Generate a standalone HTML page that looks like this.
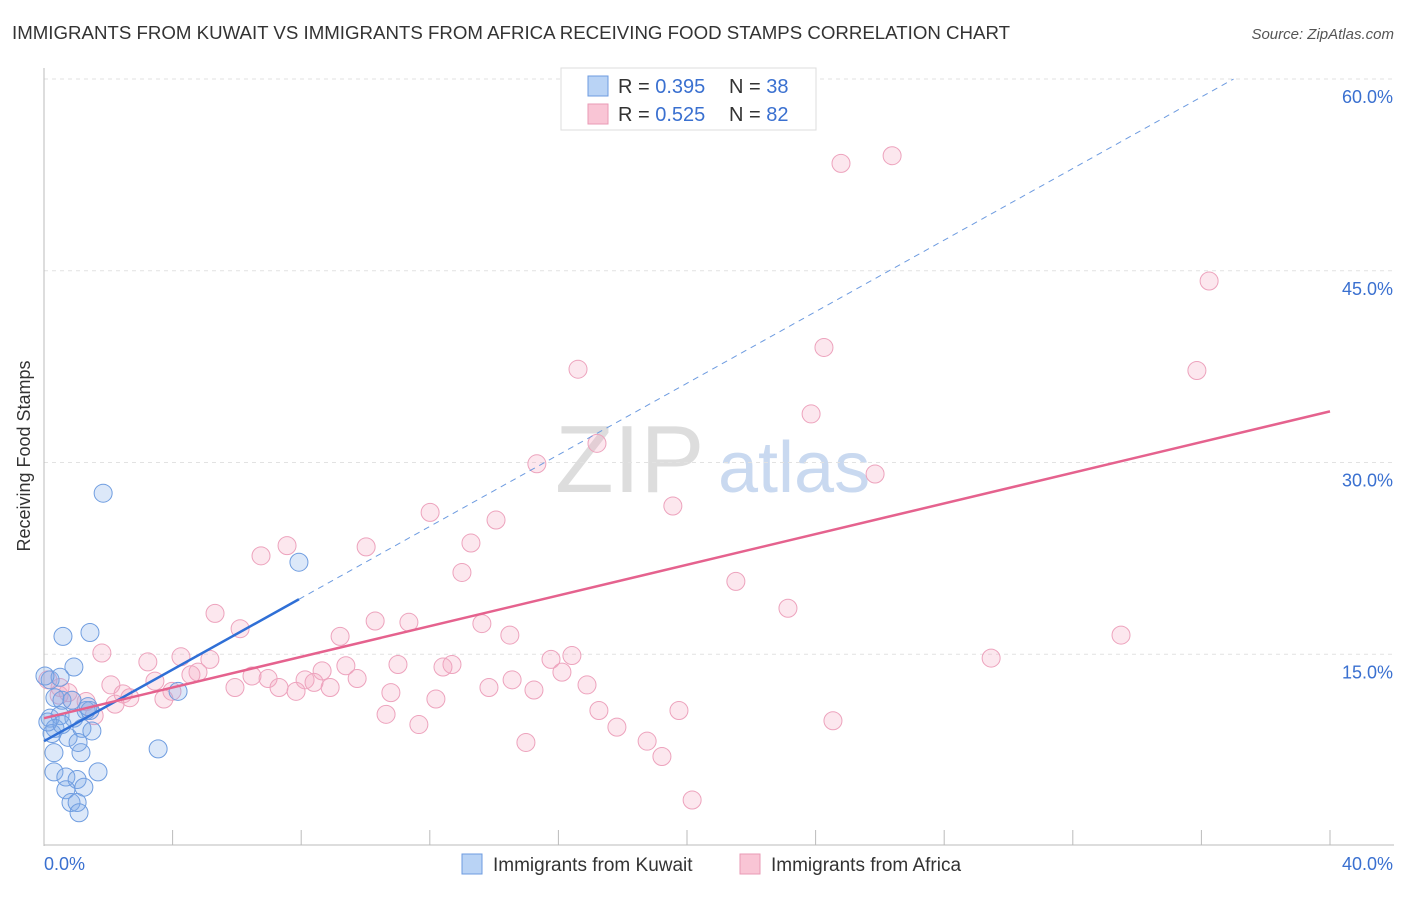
<!DOCTYPE html>
<html><head><meta charset="utf-8"><style>
body{margin:0;background:#fff;font-family:"Liberation Sans",sans-serif}
svg text{font-family:"Liberation Sans",sans-serif}
</style></head><body>
<svg id="chart" width="1406" height="892">
<text x="12" y="39" font-size="18" fill="#333" textLength="998" lengthAdjust="spacingAndGlyphs">IMMIGRANTS FROM KUWAIT VS IMMIGRANTS FROM AFRICA RECEIVING FOOD STAMPS CORRELATION CHART</text>
<text x="1394" y="39" font-size="15" fill="#555" font-style="italic" text-anchor="end">Source: ZipAtlas.com</text>
<text x="30" y="456" font-size="18" fill="#333" text-anchor="middle" transform="rotate(-90 30 456)">Receiving Food Stamps</text>
<text x="555" y="492" font-size="96" fill="#ddd" font-family="Liberation Serif">ZIP</text>
<text x="718" y="492" font-size="72" fill="#c9d9f0">atlas</text>
<g id="grid"></g><g id="marks"></g>
<g>
<rect x="561" y="68" width="255" height="62" fill="#fff" stroke="#ddd"/>
<rect x="588" y="76" width="20" height="20" fill="#b9d3f5" stroke="#6d9be0"/>
<rect x="588" y="104" width="20" height="20" fill="#f9c5d5" stroke="#e99ab5"/>
<text x="618" y="93" font-size="20" fill="#333">R = <tspan fill="#3a70d0">0.395</tspan></text>
<text x="729" y="93" font-size="20" fill="#333">N = <tspan fill="#3a70d0">38</tspan></text>
<text x="618" y="121" font-size="20" fill="#333">R = <tspan fill="#3a70d0">0.525</tspan></text>
<text x="729" y="121" font-size="20" fill="#333">N = <tspan fill="#3a70d0">82</tspan></text>
</g>
<g>
<rect x="462" y="854" width="20" height="20" fill="#b9d3f5" stroke="#6d9be0"/>
<text x="493" y="871" font-size="19" fill="#333">Immigrants from Kuwait</text>
<rect x="740" y="854" width="20" height="20" fill="#f9c5d5" stroke="#e99ab5"/>
<text x="771" y="871" font-size="19" fill="#333">Immigrants from Africa</text>
</g>
</svg>
<script>
const yTicks=[15,30,45,60];
const yTickLabels=["15.0%","30.0%","45.0%","60.0%"];
const xTicks=[0,4,8,12,16,20,24,28,32,36,40];
const kuwaitX=[1.84,7.93,1.43,0.59,0.93,4.17,3.55,0.31,1.15,1.68,0.31,0.68,1.03,1.24,0.68,0.84,1.03,1.09,0.19,0.5,0.34,0.56,0.87,1.31,0.19,0.5,0.93,1.43,0.34,0.75,1.18,1.49,0.25,1.06,0.56,0.12,0.03,1.37];
const kuwaitY=[27.6,22.2,16.7,16.4,14.0,12.1,7.6,7.3,7.3,5.8,5.8,5.4,5.2,4.6,4.4,3.4,3.4,2.6,13.0,13.2,11.6,11.4,11.4,10.6,10.0,10.2,10.0,10.6,9.2,8.5,9.2,9.0,8.8,8.1,9.5,9.7,13.3,10.9];
const africaX=[26.38,24.79,36.24,24.26,16.61,35.86,23.86,17.2,15.33,25.85,12.01,14.06,19.56,7.56,13.28,10.02,6.75,13.0,21.52,23.14,5.32,10.3,11.35,6.1,13.62,14.49,9.21,33.5,1.8,16.42,15.77,29.46,4.26,3.23,5.16,9.39,11.01,12.69,12.41,8.65,16.11,4.79,4.57,6.47,6.97,8.12,9.74,14.56,3.45,2.08,16.89,7.31,5.94,8.9,8.4,7.84,13.84,15.24,3.98,2.46,2.67,3.73,10.79,12.19,0.5,0.87,1.31,1.56,0.47,2.21,10.64,17.26,19.75,11.66,17.82,24.54,14.99,18.76,19.22,20.16,0.12,0.75];
const africaY=[54.0,53.4,44.2,39.0,37.3,37.2,33.8,31.5,29.9,29.1,26.1,25.5,26.6,23.5,23.7,23.4,22.7,21.4,20.7,18.6,18.2,17.6,17.5,17.0,17.4,16.5,16.4,16.5,15.1,14.9,14.6,14.7,14.8,14.4,14.6,14.1,14.2,14.2,14.0,13.7,13.6,13.6,13.4,13.3,13.1,13.0,13.1,13.0,12.9,12.6,12.6,12.4,12.4,12.4,12.8,12.1,12.4,12.2,12.1,11.9,11.6,11.5,12.0,11.5,12.4,11.4,11.3,10.2,11.8,11.1,10.3,10.6,10.6,9.5,9.3,9.8,8.1,8.2,7.0,3.6,13.0,12.0];
const kuwaitTrend=[8.2,1.4];
const africaTrend=[10.0,0.6];
const NS="http://www.w3.org/2000/svg";
const X=v=>44+v/40*1286, Y=v=>846-v*12.783;
function mk(tag,attrs,parent){const e=document.createElementNS(NS,tag);for(const k in attrs)e.setAttribute(k,attrs[k]);parent.appendChild(e);return e;}
const grid=document.getElementById('grid'),marks=document.getElementById('marks');
yTicks.forEach((t,i)=>{
 const l=mk('line',{x1:44,x2:1394,y1:Y(t),y2:Y(t),stroke:'#e2e2e2','stroke-dasharray':'4,4'},grid);
 
 
 const tx=mk('text',{x:1393,y:Y(t)+24,'font-size':18,fill:'#3a70d0','text-anchor':'end'},grid);
 tx.textContent=yTickLabels[i];
 
 
});
const ax=mk('line',{x1:44,x2:44,y1:68,y2:846,stroke:'#bbb'},grid);


const bx=mk('line',{x1:44,x2:1394,y1:845,y2:845,stroke:'#bbb'},grid);


xTicks.forEach(t=>{
 const l=mk('line',{x1:X(t),x2:X(t),y1:830,y2:845,stroke:'#bbb'},grid);
 
 
});
[[0,'start',44,'x-min-label','0.0%'],[40,'end',1393,'x-max-label','40.0%']].forEach(a=>{
 const t=mk('text',{x:a[2],y:870,'font-size':18,fill:'#3a70d0','text-anchor':a[1]},grid);
 t.textContent=a[4];
 
 
});
africaX.forEach((x,i)=>{
 const c=mk('circle',{cx:X(x),cy:Y(africaY[i]),r:9,fill:'rgba(244,170,195,0.28)',stroke:'#eda3bd','stroke-width':1},marks);
 
 
});
kuwaitX.forEach((x,i)=>{
 const c=mk('circle',{cx:X(x),cy:Y(kuwaitY[i]),r:9,fill:'rgba(130,172,235,0.28)',stroke:'#6f9de0','stroke-width':1},marks);
 
 
});
const kxEnd=Math.max(...kuwaitX), kxDash=(60-kuwaitTrend[0])/kuwaitTrend[1];
const kd=mk('line',{x1:X(kxEnd),y1:Y(kuwaitTrend[0]+kuwaitTrend[1]*kxEnd),x2:X(kxDash),y2:Y(60),stroke:'#6d9be0','stroke-width':1,'stroke-dasharray':'6,5'},marks);


const kl=mk('line',{x1:X(0),y1:Y(kuwaitTrend[0]),x2:X(kxEnd),y2:Y(kuwaitTrend[0]+kuwaitTrend[1]*kxEnd),stroke:'#2f6fd6','stroke-width':2.5},marks);


const al=mk('line',{x1:X(0),y1:Y(africaTrend[0]),x2:X(40),y2:Y(africaTrend[0]+africaTrend[1]*40),stroke:'#e5628e','stroke-width':2.5},marks);


</script>
</body></html>
